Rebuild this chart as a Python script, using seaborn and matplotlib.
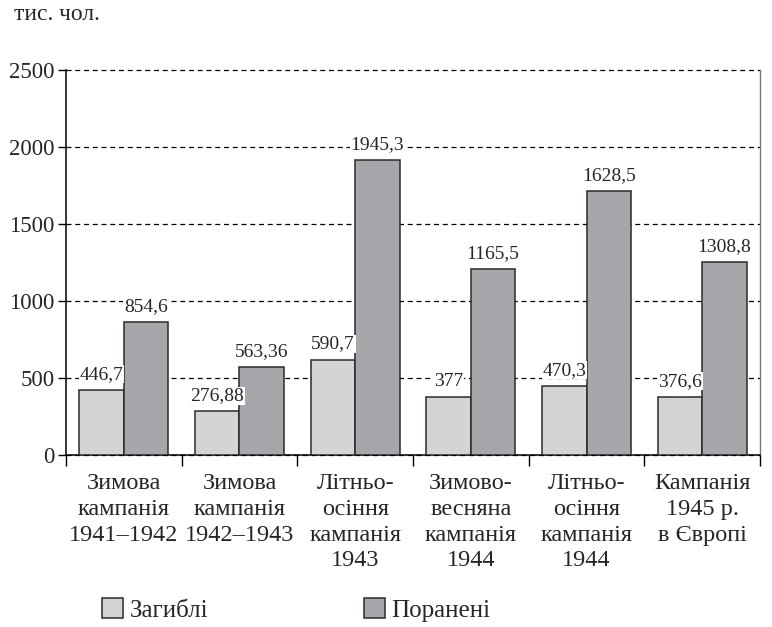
import matplotlib
matplotlib.use("Agg")
import matplotlib.pyplot as plt
import seaborn as sns
import pandas as pd

categories = ["Зимова\nкампанія\n1941–1942", "Зимова\nкампанія\n1942–1943",
              "Літньо-\nосіння\nкампанія\n1943", "Зимово-\nвесняна\nкампанія\n1944",
              "Літньо-\nосіння\nкампанія\n1944", "Кампанія\n1945 р.\nв Європі"]
series = ["Загиблі", "Поранені"]
killed = [425, 283, 620, 379, 451, 379]
wounded = [865, 571, 1914, 1208, 1715, 1252]
killed_labels = ["446,7", "276,88", "590,7", "377", "470,3", "376,6"]
wounded_labels = ["854,6", "563,36", "1945,3", "1165,5", "1628,5", "1308,8"]
yticks = [0, 500, 1000, 1500, 2000, 2500]

sns.set_style("white")
plt.rcParams['font.family'] = ['Liberation Serif', 'DejaVu Serif']

df = pd.DataFrame({
    "cat": categories * 2,
    "series": [series[0]] * 6 + [series[1]] * 6,
    "val": killed + wounded,
})

fig = plt.figure(figsize=(7.72, 6.27), dpi=100)
ax = fig.add_axes([66 / 772, 1 - 455 / 627, (760 - 66) / 772, (455 - 70) / 627])

sns.barplot(data=df, x="cat", y="val", hue="series", order=categories,
            hue_order=series, palette=["#d3d4d6", "#a6a7ab"],
            edgecolor="#2a2a2a", linewidth=1.1, width=0.77, saturation=1,
            ax=ax, zorder=3)

ax.set_ylim(0, 2500)
ax.set_xlim(-0.5, 5.5)
ax.set_yticks(yticks)
ax.set_yticklabels([str(v) for v in yticks], fontsize=16.5)
ax.tick_params(axis="y", length=6, width=1, color="black", pad=2, left=True)
ax.set_xticks(range(6))
ax.set_xticklabels(categories, fontsize=17.5, linespacing=1.3)
ax.tick_params(axis="x", which="major", length=0, pad=13)
ax.set_xticks([i - 0.5 for i in range(7)], minor=True)
ax.tick_params(axis="x", which="minor", length=8, width=1, color="black", bottom=True)
ax.set_xlabel("")
ax.set_ylabel("")

ax.yaxis.grid(True, linestyle=(0, (4, 3)), color="black", linewidth=0.9)
ax.set_axisbelow(True)
for gl in ax.get_ygridlines():
    gl.set_clip_on(False)

for s in ["left", "bottom"]:
    ax.spines[s].set_color("black")
    ax.spines[s].set_linewidth(1.1)
ax.spines["right"].set_color("#777777")
ax.spines["right"].set_linewidth(1.0)
ax.spines["top"].set_visible(False)

bbox = dict(facecolor="white", edgecolor="none", pad=0.5)
ax.bar_label(ax.containers[0], labels=killed_labels, padding=5, fontsize=14, bbox=bbox, zorder=4)
ax.bar_label(ax.containers[1], labels=wounded_labels, padding=5, fontsize=14, bbox=bbox, zorder=4)

handles, labels = ax.get_legend_handles_labels()
if ax.get_legend() is not None:
    ax.get_legend().remove()
fig.legend(handles, labels, loc="center left", bbox_to_anchor=(102 / 772, 1 - 610 / 627),
           ncol=2, frameon=False, fontsize=18, handlelength=0.84, handleheight=0.84,
           handletextpad=0.28, columnspacing=6.2, borderpad=0, borderaxespad=0)

fig.text(14 / 772, 1 - 14 / 627, "тис. чол.", fontsize=17, va="center", ha="left")

fig.savefig("out.png", dpi=100)
